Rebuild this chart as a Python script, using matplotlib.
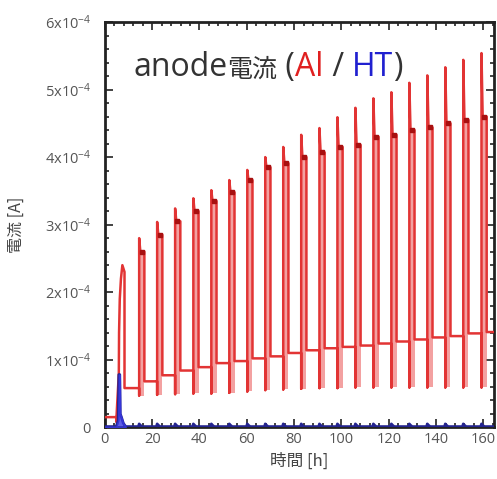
import matplotlib
matplotlib.use('Agg')
import matplotlib.pyplot as plt
import numpy as np
from matplotlib.ticker import MultipleLocator, FuncFormatter

plt.rcParams['font.family'] = ['Open Sans', 'Noto Sans CJK JP', 'DejaVu Sans']
plt.rcParams['mathtext.default'] = 'regular'

# anode current, Al (red) -- values in units of 1e-4 A
pre_t = [0.0, 4.8, 4.8, 5.9, 6.0, 6.3, 6.8, 7.4, 8.3, 8.3]
pre_v = [0.15, 0.15, 0.08, 0.8, 1.4, 1.9, 2.2, 2.4, 2.3, 0.58]

cycle_t = [14.5, 22.1, 29.7, 37.4, 45.0, 52.6, 60.2, 67.8, 75.4, 83.0,
           90.7, 98.3, 105.9, 113.5, 121.1, 128.7, 136.3, 143.9, 151.5, 159.2]
peak = [2.8, 3.04, 3.24, 3.39, 3.51, 3.66, 3.81, 4.0, 4.15, 4.33,
        4.43, 4.59, 4.73, 4.87, 4.96, 5.10, 5.21, 5.33, 5.44, 5.54]
plateau = [2.6, 2.85, 3.05, 3.2, 3.35, 3.48, 3.66, 3.85, 3.91, 4.0,
           4.07, 4.15, 4.18, 4.3, 4.33, 4.4, 4.44, 4.5, 4.55, 4.6]
base = [0.68, 0.77, 0.84, 0.89, 0.95, 0.98, 1.02, 1.05, 1.1, 1.14,
        1.17, 1.19, 1.21, 1.24, 1.27, 1.30, 1.33, 1.35, 1.39, 1.41]
dip = [0.47, 0.48, 0.49, 0.5, 0.5, 0.51, 0.53, 0.55, 0.56, 0.57,
       0.58, 0.58, 0.59, 0.59, 0.59, 0.59, 0.59, 0.59, 0.59, 0.59]
pulse_len = 2.2

# anode current, HT (blue)
ht_t = [0.0, 4.8, 5.6, 5.9, 6.3, 6.5, 7.0, 7.8, 8.8]
ht_v = [0.01, 0.01, 0.1, 0.78, 0.78, 0.2, 0.15, 0.06, 0.01]
ht_bump = 0.05

red_t, red_v = list(pre_t), list(pre_v)
for t, p, q, b, d in zip(cycle_t, peak, plateau, base, dip):
    prev = red_v[-1]
    red_t += [t, t, t, t + 0.5, t + pulse_len, t + pulse_len]
    red_v += [prev, d, p, q, q, b]
red_t.append(165)
red_v.append(base[-1])

blue_t, blue_v = list(ht_t), list(ht_v)
for t in cycle_t:
    blue_t += [t - 0.3, t, t + 0.5, t + 1.2]
    blue_v += [0.01, ht_bump, 0.03, 0.01]
blue_t.append(165)
blue_v.append(0.01)

red_t = np.array(red_t)
red_v = np.array(red_v) * 1e-4
blue_t = np.array(blue_t)
blue_v = np.array(blue_v) * 1e-4

fig = plt.figure(figsize=(4.97, 4.79), dpi=100)
ax = fig.add_axes([0.211, 0.108, 0.783, 0.846])

# pinkish interior of each pulse
for t, q, d in zip(cycle_t, plateau, dip):
    ax.fill_between([t, t + pulse_len], d * 1e-4, q * 1e-4,
                    color='#ee7a7a', alpha=0.7, linewidth=0, zorder=2)

ax.plot(red_t, red_v, color='#e23434', linewidth=1.8, zorder=3)
ax.plot(blue_t, blue_v, color='#24248f', linewidth=2.0, zorder=4)
ax.fill_between(ht_t, np.array(ht_v) * 1e-4, color='#3838e0', alpha=0.8, zorder=4)

# dark marker on plateau
for t, q in zip(cycle_t, plateau):
    ax.plot(t + 1.0, q * 1e-4, 's', color='#a81010', markersize=2.5, zorder=5)

ax.set_xlim(0, 164.5)
ax.set_ylim(0, 6e-4)
ax.xaxis.set_major_locator(MultipleLocator(20))
ax.xaxis.set_minor_locator(MultipleLocator(4))
ax.yaxis.set_major_locator(MultipleLocator(1e-4))
ax.yaxis.set_minor_locator(MultipleLocator(0.2e-4))


def yfmt(v, pos):
    n = int(round(v * 1e4))
    if n == 0:
        return '0'
    return f'{n}x10$^{{-4}}$'


ax.yaxis.set_major_formatter(FuncFormatter(yfmt))
ax.tick_params(which='both', direction='in', top=True, right=True,
               labelsize=10.5, labelcolor='#555555', color='#222222')
ax.tick_params(which='major', length=6, width=1.2)
ax.tick_params(axis='y', which='major', pad=10)
ax.tick_params(which='minor', length=3, width=1.2)
for s in ax.spines.values():
    s.set_linewidth(2)
    s.set_color('#222222')

ax.set_xlabel('時間 [h]', fontsize=12, color='#444444',
              family=['Noto Sans CJK JP'], labelpad=4)
ax.set_ylabel('電流 [A]', fontsize=11.5, color='#444444',
              family=['Noto Sans CJK JP'], labelpad=14)

# title with coloured parts
x0, y0 = 0.073, 0.866
parts = [('anode', '#333333', 23), ('電流', '#333333', 18), (' (', '#333333', 23),
         ('Al', '#e02020', 23), (' / ', '#333333', 23),
         ('HT', '#2020d0', 23), (')', '#333333', 23)]
fig.canvas.draw()
renderer = fig.canvas.get_renderer()
xpos = x0
for s, c, fs in parts:
    txt = ax.text(xpos, y0, s, transform=ax.transAxes, fontsize=fs, color=c,
                  va='baseline', ha='left', zorder=6)
    bb = txt.get_window_extent(renderer=renderer)
    xpos += bb.width / ax.get_window_extent().width

fig.savefig('out.png', dpi=100)
